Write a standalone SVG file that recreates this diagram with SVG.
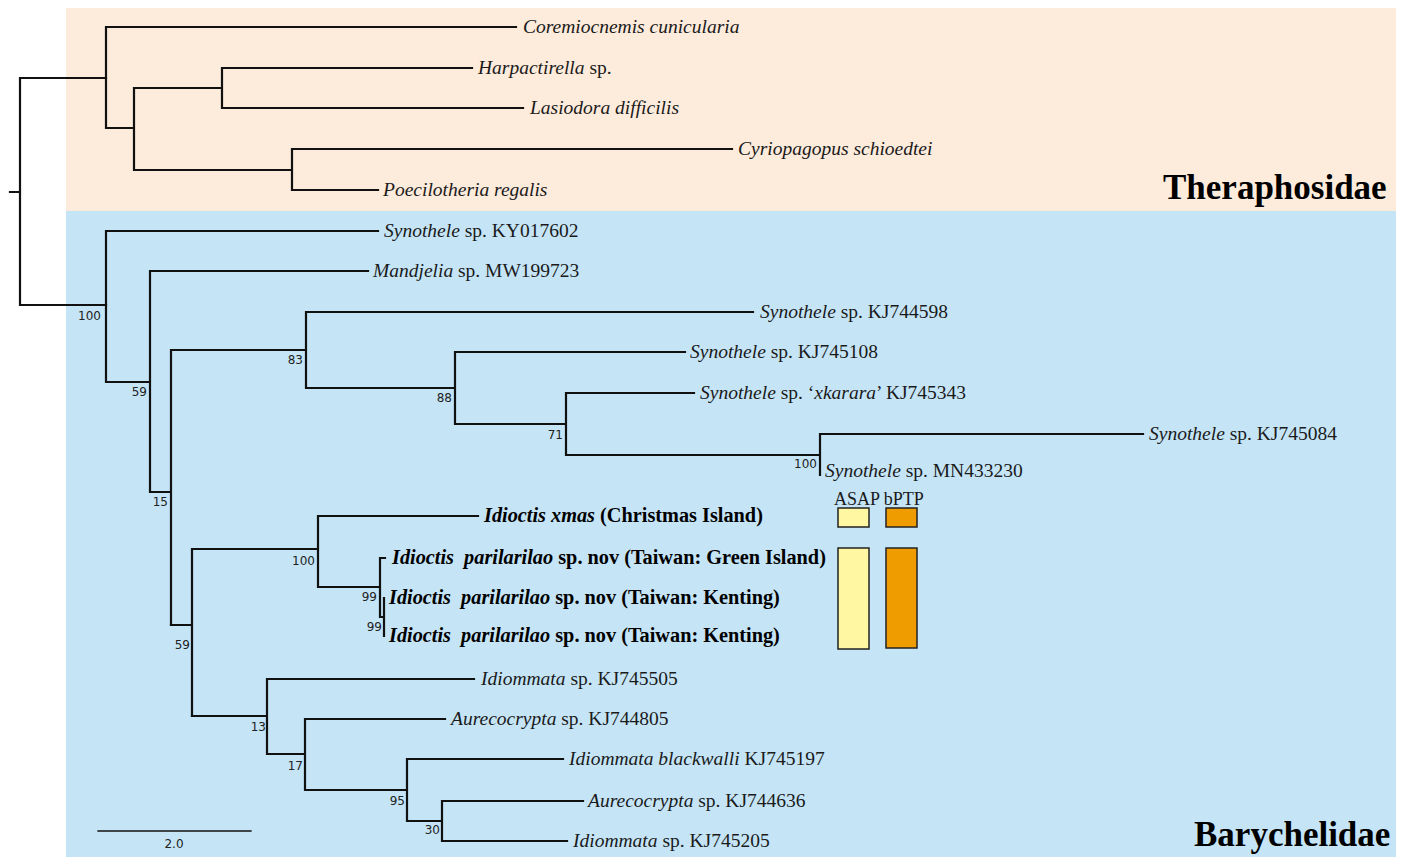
<svg xmlns="http://www.w3.org/2000/svg" width="1405" height="857" viewBox="0 0 1405 857">
<style>
.br{fill:none;stroke:#111;stroke-width:2.2;stroke-linecap:square}
.lb{font-family:"Liberation Serif","Times New Roman",serif;font-size:19.5px;fill:#1a1a1a}
.bd{font-weight:bold;fill:#000;font-size:20.3px}
.it{font-style:italic}
.bs{font-family:"DejaVu Sans","Liberation Sans",sans-serif;font-size:12px;fill:#222;text-anchor:end}
.fam{font-family:"Liberation Serif","Times New Roman",serif;font-size:35px;font-weight:bold;fill:#000}
.box{stroke:#222;stroke-width:1.5}
</style>
<rect id="bg-theraphosidae" x="66" y="8" width="1330" height="203" fill="#FDEBDC"/>
<rect id="bg-barychelidae" x="66" y="211" width="1330" height="646" fill="#C5E5F7"/>
<g id="connectors">
<path class="br" d="M10 192H20M20 78V305M20 78H106M20 305H106"/>
<path class="br" d="M106 27V128M106 27H516M106 128H134M134 88V170M134 88H222M222 68V108M222 68H472M222 108H523M134 170H292M292 149V190M292 149H732M292 190H378"/>
<path class="br" d="M106 231V382M106 231H378M106 382H150M150 271V492M150 271H368M150 492H171M171 350V625M171 350H306M306 312V388M306 312H753M306 388H455M455 352V424M455 352H685M455 424H566M566 393V455M566 393H694M566 455H820M820 434V475M820 434H1143"/>
<path class="br" d="M171 625H192M192 549V716M192 549H318M318 516V587M318 516H478M318 587H380M380 558V617M380 558H385M380 617H384M384 598V636"/>
<path class="br" d="M192 716H267M267 679V754M267 679H474M267 754H305M305 719V790M305 719H445M305 790H407M407 759V821M407 759H563M407 821H442M442 801V841M442 801H583M442 841H567"/>
<path class="br" d="M98 831H251" style="stroke-width:1.3"/>
</g>
<g id="bootstrap">
<text class="bs" x="101" y="320">100</text>
<text class="bs" x="147" y="396">59</text>
<text class="bs" x="168" y="506">15</text>
<text class="bs" x="303" y="364">83</text>
<text class="bs" x="452" y="402">88</text>
<text class="bs" x="563" y="439">71</text>
<text class="bs" x="817" y="468">100</text>
<text class="bs" x="190" y="649">59</text>
<text class="bs" x="315" y="565">100</text>
<text class="bs" x="377" y="601">99</text>
<text class="bs" x="382" y="631">99</text>
<text class="bs" x="266" y="731">13</text>
<text class="bs" x="303" y="770">17</text>
<text class="bs" x="405" y="805">95</text>
<text class="bs" x="440" y="834">30</text>
<text class="bs" x="174" y="848" style="text-anchor:middle">2.0</text>
</g>
<g id="taxon-coremiocnemis"><text class="lb it" x="523" y="33">Coremiocnemis cunicularia</text></g>
<g id="taxon-harpactirella"><text class="lb" x="478" y="74"><tspan class="it">Harpactirella</tspan> sp.</text></g>
<g id="taxon-lasiodora"><text class="lb it" x="530" y="114">Lasiodora difficilis</text></g>
<g id="taxon-cyriopagopus"><text class="lb it" x="738" y="155">Cyriopagopus schioedtei</text></g>
<g id="taxon-poecilotheria"><text class="lb it" x="383" y="196">Poecilotheria regalis</text></g>
<g id="taxon-syn-ky017602"><text class="lb" x="384" y="237"><tspan class="it">Synothele</tspan> sp. KY017602</text></g>
<g id="taxon-mandjelia"><text class="lb" x="373" y="277"><tspan class="it">Mandjelia</tspan> sp. MW199723</text></g>
<g id="taxon-syn-kj744598"><text class="lb" x="760" y="318"><tspan class="it">Synothele</tspan> sp. KJ744598</text></g>
<g id="taxon-syn-kj745108"><text class="lb" x="690" y="358"><tspan class="it">Synothele</tspan> sp. KJ745108</text></g>
<g id="taxon-syn-xkarara"><text class="lb" x="700" y="399"><tspan class="it">Synothele</tspan> sp. ‘<tspan class="it">xkarara</tspan>’ KJ745343</text></g>
<g id="taxon-syn-kj745084"><text class="lb" x="1149" y="440"><tspan class="it">Synothele</tspan> sp. KJ745084</text></g>
<g id="taxon-syn-mn433230"><text class="lb" x="825" y="477"><tspan class="it">Synothele</tspan> sp. MN433230</text></g>
<g id="taxon-idioctis-xmas"><text class="lb bd" x="484" y="522"><tspan class="it">Idioctis xmas</tspan> (Christmas Island)</text></g>
<g id="taxon-parilarilao-green"><text class="lb bd" x="392" y="564" xml:space="preserve"><tspan class="it">Idioctis  parilarilao</tspan> sp. nov (Taiwan: Green Island)</text></g>
<g id="taxon-parilarilao-kenting1"><text class="lb bd" x="389" y="604" xml:space="preserve"><tspan class="it">Idioctis  parilarilao</tspan> sp. nov (Taiwan: Kenting)</text></g>
<g id="taxon-parilarilao-kenting2"><text class="lb bd" x="389" y="642" xml:space="preserve"><tspan class="it">Idioctis  parilarilao</tspan> sp. nov (Taiwan: Kenting)</text></g>
<g id="taxon-idiommata-kj745505"><text class="lb" x="481" y="685"><tspan class="it">Idiommata</tspan> sp. KJ745505</text></g>
<g id="taxon-aurecocrypta-kj744805"><text class="lb" x="451" y="725"><tspan class="it">Aurecocrypta</tspan> sp. KJ744805</text></g>
<g id="taxon-idiommata-blackwalli"><text class="lb" x="569" y="765"><tspan class="it">Idiommata blackwalli</tspan> KJ745197</text></g>
<g id="taxon-aurecocrypta-kj744636"><text class="lb" x="588" y="807"><tspan class="it">Aurecocrypta</tspan> sp. KJ744636</text></g>
<g id="taxon-idiommata-kj745205"><text class="lb" x="573" y="847"><tspan class="it">Idiommata</tspan> sp. KJ745205</text></g>
<g id="delimitation">
<text class="lb" x="834" y="505" style="font-size:18px">ASAP bPTP</text>
<rect class="box" x="838" y="508" width="31" height="19" fill="#FFF7A1"/>
<rect class="box" x="886" y="508" width="31" height="19" fill="#EF9C00"/>
<rect class="box" x="838" y="548" width="31" height="101" fill="#FFF7A1"/>
<rect class="box" x="886" y="548" width="31" height="100" fill="#EF9C00"/>
</g>
<g id="family-theraphosidae"><text class="fam" x="1163" y="199">Theraphosidae</text></g>
<g id="family-barychelidae"><text class="fam" x="1194" y="846">Barychelidae</text></g>
</svg>
